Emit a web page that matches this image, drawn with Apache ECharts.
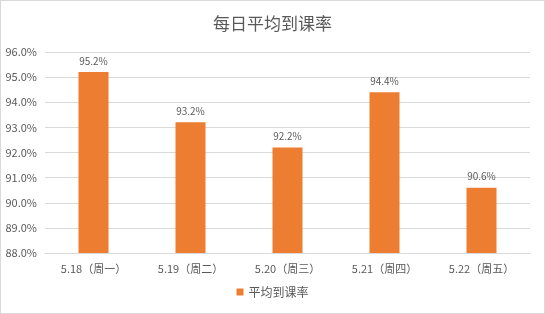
<!DOCTYPE html>
<html>
<head>
<meta charset="utf-8">
<script src="https://cdn.jsdelivr.net/npm/echarts@6/dist/echarts.min.js"></script>
<style>
  html, body { margin: 0; padding: 0; background: #fff; }
  #main { width: 543px; height: 312px; border: 1px solid #d9d9d9; }
</style>
</head>
<body>
<div id="main"></div>
<script>
// 每日平均到课率
const days = ['5.18（周一）', '5.19（周二）', '5.20（周三）', '5.21（周四）', '5.22（周五）'];
const rates = [95.2, 93.2, 92.2, 94.4, 90.6];
const seriesName = '平均到课率';

const font = '"Noto Sans CJK SC", "Microsoft YaHei", sans-serif';
const chart = echarts.init(document.getElementById('main'));

let option = {
  backgroundColor: '#fff',
  textStyle: { fontFamily: font },
  title: {
    text: '每日平均到课率',
    left: 'center',
    top: 9,
    textStyle: { fontSize: 17, fontWeight: 'normal', color: '#595959', fontFamily: font }
  },
  legend: {
    bottom: 10,
    left: 'center',
    itemWidth: 7,
    itemHeight: 7,
    icon: 'rect',
    itemGap: 4,
    textStyle: { fontSize: 12, color: '#595959', fontFamily: font },
    data: [seriesName]
  },
  grid: { left: 44, right: 14, top: 51, bottom: 60, containLabel: false },
  xAxis: {
    type: 'category',
    data: days,
    axisTick: { show: false },
    axisLine: { lineStyle: { color: '#d9d9d9' } },
    axisLabel: { color: '#595959', fontSize: 11, margin: 10, fontFamily: font }
  },
  yAxis: {
    type: 'value',
    min: 88,
    max: 96,
    interval: 1,
    axisLine: { show: false },
    axisTick: { show: false },
    splitLine: { lineStyle: { color: '#d9d9d9' } },
    axisLabel: {
      color: '#595959',
      fontSize: 11,
      margin: 8,
      fontFamily: font,
      formatter: v => v.toFixed(1) + '%'
    }
  },
  series: [{
    name: seriesName,
    type: 'bar',
    data: rates,
    barWidth: 30,
    itemStyle: { color: '#ED7D31' },
    label: {
      show: true,
      position: 'top',
      distance: 6,
      color: '#595959',
      fontSize: 10,
      fontFamily: font,
      formatter: p => p.value.toFixed(1) + '%'
    }
  }]
};
chart.setOption(option, true);
</script>
</body>
</html>
